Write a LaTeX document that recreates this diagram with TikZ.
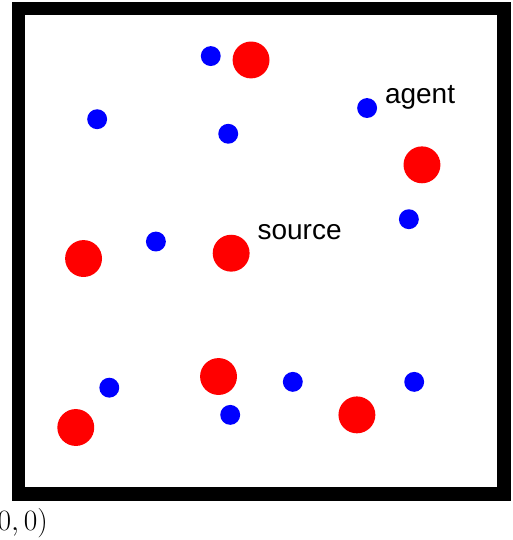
\documentclass[tikz,border=0pt]{standalone}
\usepackage{amsmath}
\usepackage{fontspec}
\setmainfont{Latin Modern Roman}
\newfontfamily\labelfont{Liberation Sans}

\tikzset{
  agentdot/.style={circle, fill=blue, inner sep=0pt, minimum size=0.41cm},
  sourcedot/.style={circle, fill=red, inner sep=0pt, minimum size=0.76cm},
  tag/.style={font=\labelfont\fontsize{16.4}{20}\selectfont}
}

\begin{document}
\begin{tikzpicture}
            \useasboundingbox (-0.381,-0.947) rectangle (10.165,10.175);
            %border
            \draw[line width=0.278cm] (0,0) rectangle (10,10);

            %agents
            \node[agentdot] (a1) at (3.96,9.02) {};
            \node[agentdot] (a2) at (1.62,7.72) {};
            \node[agentdot] (a3) at (4.32,7.42) {};
            \node[agentdot] (a4) at (7.18,7.95) {};
            \node[agentdot] (a5) at (2.83,5.20) {};
            \node[agentdot] (a6) at (8.04,5.66) {};
            \node[agentdot] (a7) at (1.87,2.19) {};
            \node[agentdot] (a8) at (5.65,2.31) {};
            \node[agentdot] (a9) at (8.15,2.31) {};
            \node[agentdot] (a10) at (4.36,1.63) {};

            %sources
            \node[sourcedot] (s1) at (4.79,8.94) {};
            \node[sourcedot] (s2) at (8.31,6.78) {};
            \node[sourcedot] (s3) at (1.34,4.85) {};
            \node[sourcedot] (s4) at (4.38,4.96) {};
            \node[sourcedot] (s5) at (4.12,2.42) {};
            \node[sourcedot] (s6) at (6.97,1.63) {};
            \node[sourcedot] (s7) at (1.18,1.37) {};

            %labels
            \node[tag] (agentlabel) at (8.27,8.16) {agent};
            \node[tag] (sourcelabel) at (5.79,5.40) {source};
            \node[font=\fontsize{17.5}{21}\selectfont] (origin) at (-0.02,-0.60) {$(0,0)$};
\end{tikzpicture}
\end{document}
